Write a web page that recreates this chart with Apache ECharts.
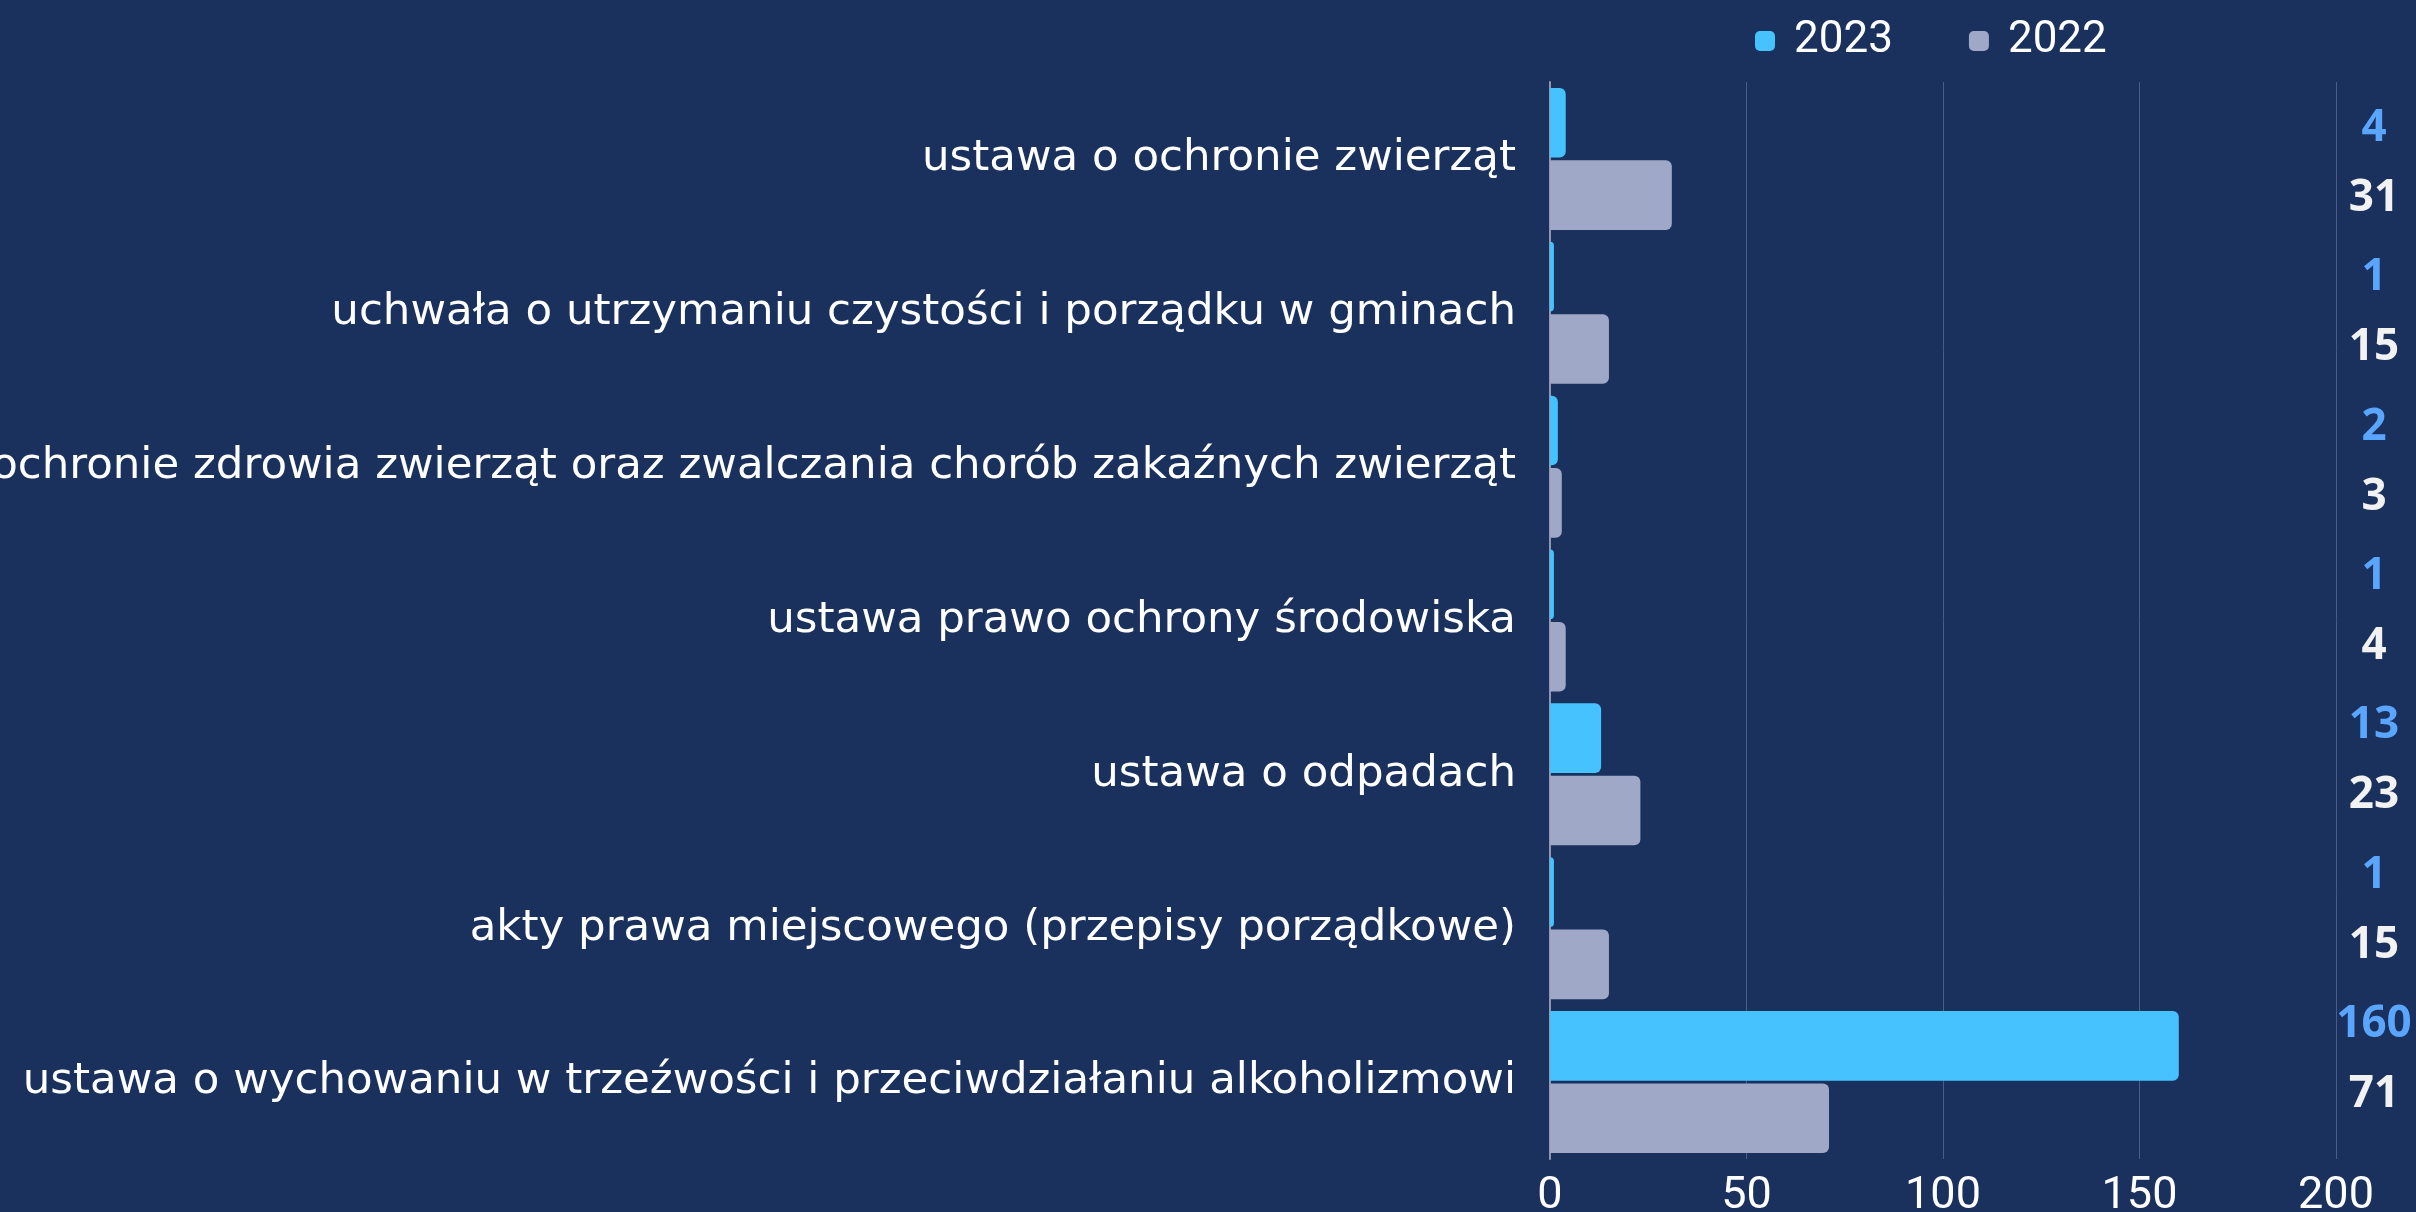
<!DOCTYPE html>
<html>
<head>
<meta charset="utf-8">
<script src="https://cdn.jsdelivr.net/npm/echarts@6/dist/echarts.min.js"></script>
<style>
html,body{margin:0;padding:0;background:#1a315e;}
#c{width:2416px;height:1212px;}
</style>
</head>
<body>
<div id="c"></div>
<script>
const categories = [
  'ustawa o ochronie zwierząt',
  'uchwała o utrzymaniu czystości i porządku w gminach',
  'ustawa o ochronie zdrowia zwierząt oraz zwalczania chorób zakaźnych zwierząt',
  'ustawa prawo ochrony środowiska',
  'ustawa o odpadach',
  'akty prawa miejscowego (przepisy porządkowe)',
  'ustawa o wychowaniu w trzeźwości i przeciwdziałaniu alkoholizmowi'
];
const values2023 = [4, 1, 2, 1, 13, 1, 160];
const values2022 = [31, 15, 3, 4, 23, 15, 71];
const seriesNames = ['2023', '2022'];
const xTicks = { min: 0, max: 200, interval: 50 };

const chart = echarts.init(document.getElementById('c'));
chart.setOption({
  backgroundColor: '#1a315e',
  animation: false,
  legend: {
    data: seriesNames,
    top: 14,
    left: 1750,
    icon: 'roundRect',
    itemWidth: 20,
    itemHeight: 20,
    itemGap: 76,
    textStyle: { color: '#ffffff', fontSize: 44, fontFamily: 'Roboto', padding: [0, 0, 0, 14] }
  },
  grid: [
    { left: 1550, right: 80, top: 82, bottom: 53, containLabel: false, outerBoundsMode: 'none' },
    { left: 1550, right: 80, top: 86, bottom: 81, containLabel: false, outerBoundsMode: 'none' }
  ],
  xAxis: [
    {
      type: 'value', gridIndex: 0,
      min: xTicks.min, max: xTicks.max, interval: xTicks.interval,
      axisLine: { show: false },
      axisTick: { show: false },
      splitLine: { show: true, lineStyle: { color: '#4b5d86', width: 1 } },
      axisLabel: { color: '#ffffff', fontSize: 45, fontFamily: 'Roboto', margin: 15 }
    },
    { type: 'value', gridIndex: 1, show: false, min: 0, max: 1, splitLine: { show: false } }
  ],
  yAxis: [
    {
      type: 'category', gridIndex: 0,
      data: categories,
      inverse: true,
      axisLine: { show: true, lineStyle: { color: '#8d97b3', width: 2 } },
      axisTick: { show: false },
      axisLabel: { color: '#ffffff', fontSize: 43.5, fontFamily: "'DejaVu Sans', sans-serif", margin: 34 }
    },
    {
      type: 'category', gridIndex: 1,
      data: categories,
      inverse: true,
      position: 'right',
      axisLine: { show: false },
      axisTick: { show: false },
      splitLine: { show: false },
      axisLabel: {
        align: 'center',
        margin: 38,
        padding: [6, 0, 0, 0],
        formatter: function (v, i) { return '{a|' + values2023[i] + '}\n{b|' + values2022[i] + '}'; },
        rich: {
          a: { color: '#5aa6ff', fontSize: 44, fontWeight: 'bold', fontFamily: "'Open Sans', sans-serif", lineHeight: 70, align: 'center' },
          b: { color: '#f2f2f2', fontSize: 44, fontWeight: 'bold', fontFamily: "'Open Sans', sans-serif", lineHeight: 70, align: 'center' }
        }
      }
    }
  ],
  series: [
    {
      name: seriesNames[0], type: 'bar', data: values2023,
      xAxisIndex: 0, yAxisIndex: 0,
      barCategoryGap: '7.7%', barGap: '4%',
      itemStyle: { color: '#46c3ff', borderRadius: [0, 6, 6, 0] }
    },
    {
      name: seriesNames[1], type: 'bar', data: values2022,
      xAxisIndex: 0, yAxisIndex: 0,
      barCategoryGap: '7.7%', barGap: '4%',
      itemStyle: { color: '#9fa8c6', borderRadius: [0, 6, 6, 0] }
    }
  ]
});
</script>
</body>
</html>
